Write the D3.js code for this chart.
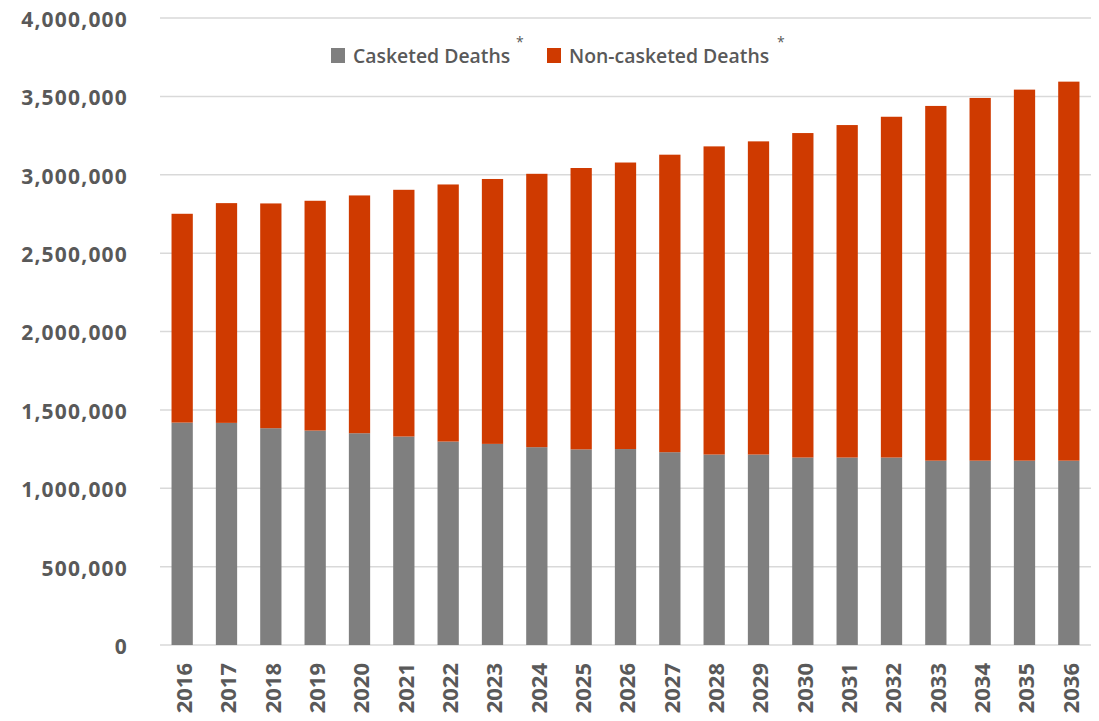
<!DOCTYPE html>
<html>
<head>
<meta charset="utf-8">
<script src="https://cdn.jsdelivr.net/npm/d3@7"></script>
<style>
  html, body { margin: 0; padding: 0; background: #ffffff; }
  svg { display: block; }
</style>
</head>
<body>
<svg id="chart" width="1099" height="721"></svg>
<script>
const years = ["2016","2017","2018","2019","2020","2021","2022","2023","2024","2025","2026",
               "2027","2028","2029","2030","2031","2032","2033","2034","2035","2036"];
const casketed = [1419000,1417000,1383000,1368000,1351000,1330000,1298000,1283000,1262000,1248000,1250000,
                  1230000,1215000,1215000,1196000,1196000,1196000,1176000,1176000,1176000,1176000];
const nonCasketed = [1332000,1402000,1434000,1466000,1517000,1574000,1640000,1690000,1744000,1795000,1828000,
                     1898000,1966000,1998000,2070000,2121000,2174000,2263000,2314000,2367000,2418000];
const yTicks = [0,500000,1000000,1500000,2000000,2500000,3000000,3500000,4000000];
const seriesNames = ["Casketed Deaths", "Non-casketed Deaths"];
const seriesColors = ["#7f7f7f", "#cf3a00"];

const svg = d3.select("#chart");
const margin = {left: 160, right: 8, top: 18, bottom: 76};
const W = 1099, H = 721;

const x = d3.scaleBand().domain(years).range([margin.left, W - margin.right])
  .paddingInner(0.52).paddingOuter(0.26);
const y = d3.scaleLinear().domain([0, 4000000]).range([H - margin.bottom, margin.top]);

const fmt = d3.format(",");
const textColor = "#595959";
const font = "'Open Sans', sans-serif";

// gridlines
svg.append("g").selectAll("line").data(yTicks).join("line")
  .attr("x1", margin.left).attr("x2", W - margin.right)
  .attr("y1", d => y(d)).attr("y2", d => y(d))
  .attr("stroke", "#d9d9d9").attr("stroke-width", 1.5);

// y axis labels
const yAxis = d3.axisLeft(y).tickValues(yTicks).tickFormat(fmt).tickSize(0).tickPadding(0);
const gy = svg.append("g").attr("transform", `translate(${128},0)`).call(yAxis);
gy.select(".domain").remove();
gy.selectAll("text")
  .attr("font-family", font).attr("font-weight", 700).attr("font-size", 21)
  .attr("letter-spacing", 1.2)
  .attr("fill", textColor).attr("dy", "0.4em");

// stacked bars
const rows = years.map((yr, i) => ({year: yr, c: casketed[i], n: nonCasketed[i]}));
const stack = d3.stack().keys(["c", "n"])(rows);
svg.append("g").selectAll("g").data(stack).join("g")
  .attr("fill", (d, i) => seriesColors[i])
  .selectAll("rect").data(d => d).join("rect")
  .attr("x", d => x(d.data.year))
  .attr("width", x.bandwidth())
  .attr("y", d => y(d[1]))
  .attr("height", d => y(d[0]) - y(d[1]));

// x axis labels
const xAxis = d3.axisBottom(x).tickSize(0).tickPadding(0);
const gx = svg.append("g").attr("transform", `translate(0,${663})`).call(xAxis);
gx.select(".domain").remove();
gx.selectAll("text")
  .attr("font-family", font).attr("font-weight", 700).attr("font-size", 22)
  .attr("fill", textColor)
  .attr("text-anchor", "end")
  .attr("transform", "rotate(-90)")
  .attr("x", 0).attr("y", 0).attr("dy", "0.36em").attr("dx", 0);
gx.selectAll(".tick").attr("transform", d => `translate(${x(d) + x.bandwidth()/2 + 2},0)`);

// legend
const legendItems = [
  {name: seriesNames[0], color: seriesColors[0], sx: 331, tx: 353, ax: 516},
  {name: seriesNames[1], color: seriesColors[1], sx: 547, tx: 569, ax: 777}
];
const lg = svg.append("g");
legendItems.forEach(it => {
  lg.append("rect").attr("x", it.sx).attr("y", 48).attr("width", 14).attr("height", 15).attr("fill", it.color);
  lg.append("text").attr("x", it.tx).attr("y", 63)
    .attr("font-family", font).attr("font-weight", 600).attr("font-size", 19.4)
    .attr("fill", textColor).text(it.name);
  lg.append("text").attr("x", it.ax).attr("y", 47)
    .attr("font-family", font).attr("font-size", 14)
    .attr("fill", textColor).text("*");
});
</script>
</body>
</html>
